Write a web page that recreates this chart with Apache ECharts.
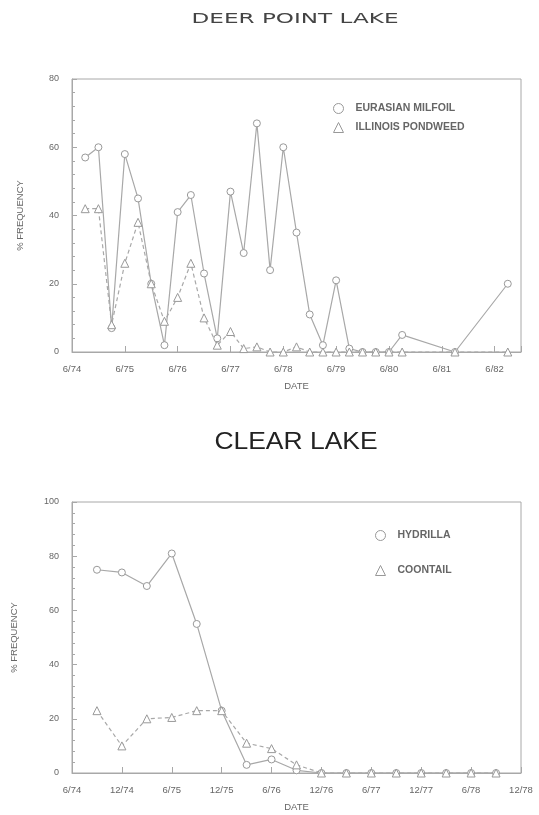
<!DOCTYPE html>
<html>
<head>
<meta charset="utf-8">
<script src="https://cdn.jsdelivr.net/npm/echarts@6/dist/echarts.min.js"></script>
<style>
  html, body { margin: 0; padding: 0; background: #fff; }
  #chart { width: 539px; height: 815px; }
</style>
</head>
<body>
<div id="chart"></div>
<script>
// Deer Point Lake - x in years after 6/74
const deerYears = [0.25, 0.5, 0.75, 1.0, 1.25, 1.5, 1.75, 2.0, 2.25, 2.5, 2.75, 3.0, 3.25, 3.5, 3.75, 4.0, 4.25, 4.5, 4.75, 5.0, 5.25, 5.5, 5.75, 6.0, 6.25, 7.25, 8.25]
const milfoil = [57, 60, 7, 58, 45, 20, 2, 41, 46, 23, 4, 47, 29, 67, 24, 60, 35, 11, 2, 21, 1, 0, 0, 0, 5, 0, 20]
const pondweed = [42, 42, 8, 26, 38, 20, 9, 16, 26, 10, 2, 6, 1, 1.5, 0, 0, 1.5, 0, 0, 0, 0, 0, 0, 0, 0, 0, 0]
const deerTicks = ['6/74', '6/75', '6/76', '6/77', '6/78', '6/79', '6/80', '6/81', '6/82']

// Clear Lake - x in half years after 6/74
const clearHalfYears = [0.5, 1, 1.5, 2, 2.5, 3, 3.5, 4, 4.5, 5, 5.5, 6, 6.5, 7, 7.5, 8, 8.5]
const hydrilla = [75, 74, 69, 81, 55, 23, 3, 5, 1, 0, 0, 0, 0, 0, 0, 0, 0]
const coontail = [23, 10, 20, 20.5, 23, 23, 11, 9, 3, 0, 0, 0, 0, 0, 0, 0, 0]
const clearTicks = ['6/74', '12/74', '6/75', '12/75', '6/76', '12/76', '6/77', '12/77', '6/78', '12/78']

const zip = (xs, ys) => xs.map((x, i) => [x, ys[i]])

const gray = '#a8a8a8'
const textGray = '#666'
const font = 'Liberation Sans, Arial, sans-serif'

function xAxisOf(grid, ticks, max) {
  return {
    type: 'value', gridIndex: grid, min: 0, max: max, interval: 1,
    name: 'DATE', nameLocation: 'middle', nameGap: 29,
    nameTextStyle: { color: textGray, fontSize: 9.5, fontFamily: font },
    axisLine: { lineStyle: { color: gray } },
    axisTick: { inside: true, length: 6, lineStyle: { color: gray } },
    splitLine: { show: false },
    axisLabel: {
      color: textGray, fontSize: 9.5, fontFamily: font, margin: 12,
      formatter: v => (Number.isInteger(v) && ticks[v] !== undefined) ? ticks[v] : ''
    }
  }
}
function yAxisOf(grid, max, gap) {
  return {
    type: 'value', gridIndex: grid, min: 0, max: max, interval: 20,
    name: '% FREQUENCY', nameLocation: 'middle', nameGap: gap,
    nameTextStyle: { color: textGray, fontSize: 9.5, fontFamily: font },
    axisLine: { show: true, lineStyle: { color: gray } },
    axisTick: { show: true, inside: true, length: 5, lineStyle: { color: gray } },
    minorTick: { show: true, splitNumber: 5, length: 3, lineStyle: { color: gray } },
    splitLine: { show: false },
    axisLabel: { color: textGray, fontSize: 9, fontFamily: font, margin: 13 }
  }
}
function lineSeries(name, grid, data, symbol, dashed) {
  return {
    name: name, type: 'line', xAxisIndex: grid, yAxisIndex: grid,
    data: data, symbol: symbol, symbolSize: symbol === 'circle' ? 7 : 8,
    showAllSymbol: true, animation: false,
    lineStyle: { color: gray, width: 1.2, type: dashed ? [4, 3] : 'solid' },
    itemStyle: { color: '#fff', borderColor: '#999', borderWidth: 1 }
  }
}
function legendOf(names, icons, left, top, gap) {
  return {
    left: left, top: top, orient: 'vertical', itemGap: gap,
    itemWidth: 10, itemHeight: 10,
    textStyle: { color: textGray, fontSize: 10.5, fontWeight: 'bold', fontFamily: font, padding: [0, 0, 0, 7] },
    data: names.map((n, i) => ({
      name: n, icon: icons[i],
      itemStyle: { color: '#fff', borderColor: '#999', borderWidth: 1 }
    }))
  }
}

const chart = echarts.init(document.getElementById('chart'))
chart.setOption({
  backgroundColor: '#fff',
  animation: false,
  graphic: [
    { type: 'text', x: 295, y: 19, scaleX: 1.65, style: { text: 'DEER POINT LAKE', fill: '#444', font: '14px DejaVu Sans', align: 'center', verticalAlign: 'middle' } },
    { type: 'text', x: 296, y: 443, scaleX: 1.15, style: { text: 'CLEAR LAKE', fill: '#222', font: '23px Liberation Sans', align: 'center', verticalAlign: 'middle' } }
  ],
  grid: [
    { left: 72, top: 79, right: 18, height: 273, show: true, borderColor: gray, borderWidth: 1 },
    { left: 72, top: 502, right: 18, height: 271, show: true, borderColor: gray, borderWidth: 1 }
  ],
  legend: [
    legendOf(['EURASIAN MILFOIL', 'ILLINOIS PONDWEED'], ['circle', 'triangle'], 328, 98, 8),
    legendOf(['HYDRILLA', 'COONTAIL'], ['circle', 'triangle'], 370, 525, 24)
  ],
  xAxis: [xAxisOf(0, deerTicks, 8.5), xAxisOf(1, clearTicks, 9)],
  yAxis: [yAxisOf(0, 80, 47), yAxisOf(1, 100, 53)],
  series: [
    lineSeries('EURASIAN MILFOIL', 0, zip(deerYears, milfoil), 'circle', false),
    lineSeries('ILLINOIS PONDWEED', 0, zip(deerYears, pondweed), 'triangle', true),
    lineSeries('HYDRILLA', 1, zip(clearHalfYears, hydrilla), 'circle', false),
    lineSeries('COONTAIL', 1, zip(clearHalfYears, coontail), 'triangle', true)
  ]
})
</script>
</body>
</html>
